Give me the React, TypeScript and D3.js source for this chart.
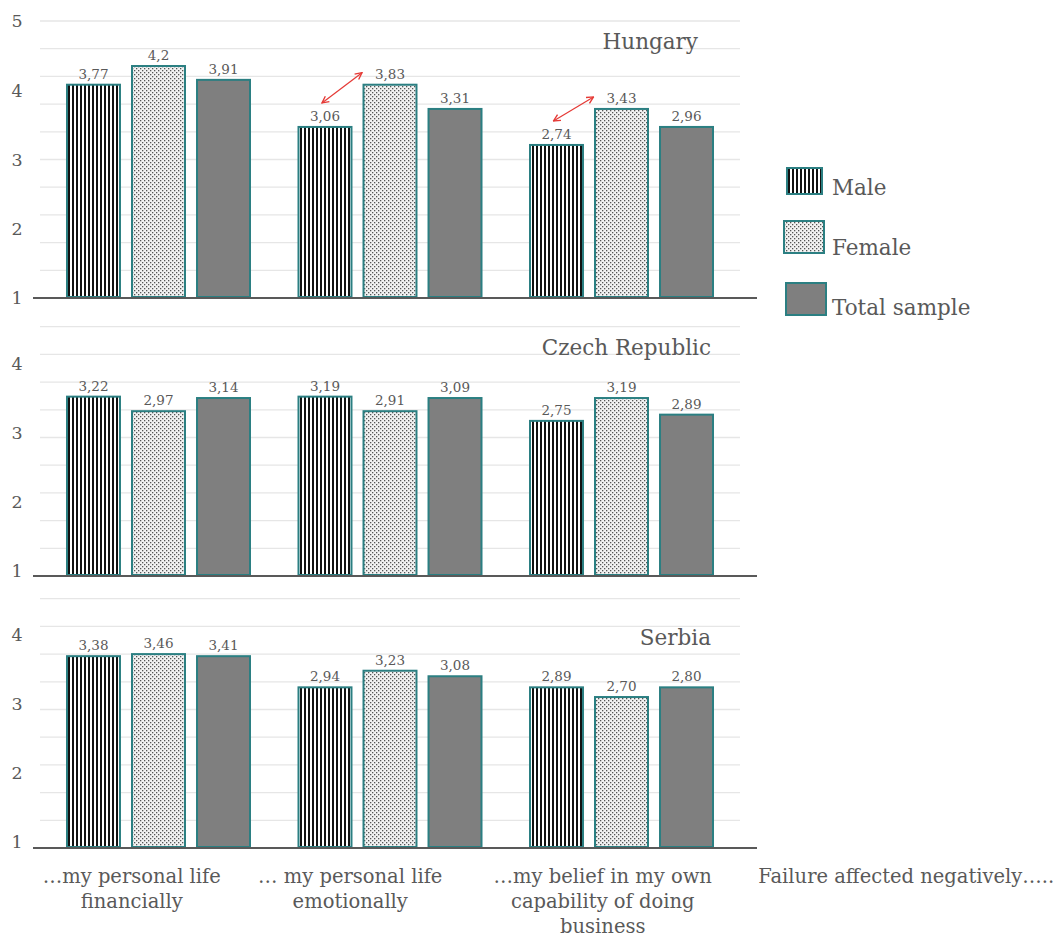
import React from "react";
import * as d3 from "d3";

// ---------- data ----------
const categories = [
  "…my personal life financially",
  "… my personal life emotionally",
  "…my belief in my own capability of doing business",
  "Failure affected negatively…..",
];
const categoryLines = [
  ["…my personal life", "financially"],
  ["… my personal life", "emotionally"],
  ["…my belief in my own", "capability of doing", "business"],
  ["Failure affected negatively….."],
];
const seriesNames = ["Male", "Female", "Total sample"];
const countries = ["Hungary", "Czech Republic", "Serbia"];

// bar heights as drawn against the axis
const hungaryMale = [4.08, 3.47, 3.21];
const hungaryFemale = [4.35, 4.08, 3.73];
const hungaryTotal = [4.15, 3.73, 3.47];
const czechMale = [3.59, 3.59, 3.24];
const czechFemale = [3.38, 3.38, 3.57];
const czechTotal = [3.57, 3.57, 3.33];
const serbiaMale = [3.77, 3.32, 3.32];
const serbiaFemale = [3.8, 3.56, 3.18];
const serbiaTotal = [3.77, 3.48, 3.32];

// printed data labels
const hungaryMaleLabels = ["3,77", "3,06", "2,74"];
const hungaryFemaleLabels = ["4,2", "3,83", "3,43"];
const hungaryTotalLabels = ["3,91", "3,31", "2,96"];
const czechMaleLabels = ["3,22", "3,19", "2,75"];
const czechFemaleLabels = ["2,97", "2,91", "3,19"];
const czechTotalLabels = ["3,14", "3,09", "2,89"];
const serbiaMaleLabels = ["3,38", "2,94", "2,89"];
const serbiaFemaleLabels = ["3,46", "3,23", "2,70"];
const serbiaTotalLabels = ["3,41", "3,08", "2,80"];

const hungaryTicks = [1, 2, 3, 4, 5];
const czechTicks = [1, 2, 3, 4];
const serbiaTicks = [1, 2, 3, 4];
const hungaryArrows = [1, 2]; // categories with red male↔female arrow

const panels = [
  {
    country: countries[0],
    values: [hungaryMale, hungaryFemale, hungaryTotal],
    labels: [hungaryMaleLabels, hungaryFemaleLabels, hungaryTotalLabels],
    ticks: hungaryTicks,
    gridCount: 10,
    arrows: hungaryArrows,
  },
  {
    country: countries[1],
    values: [czechMale, czechFemale, czechTotal],
    labels: [czechMaleLabels, czechFemaleLabels, czechTotalLabels],
    ticks: czechTicks,
    gridCount: 9,
    arrows: [] as number[],
  },
  {
    country: countries[2],
    values: [serbiaMale, serbiaFemale, serbiaTotal],
    labels: [serbiaMaleLabels, serbiaFemaleLabels, serbiaTotalLabels],
    ticks: serbiaTicks,
    gridCount: 9,
    arrows: [] as number[],
  },
];

// ---------- layout ----------
const W = 1057;
const H = 940;
const FONT = "'DejaVu Serif', serif";
const TXT = "#595959";
const STROKE = "#2b7f82";
const panelLayout = [
  { baseline: 298, titleX: 698, titleY: 49, tickDy: 0 },
  { baseline: 576, titleX: 711, titleY: 355, tickDy: -5 },
  { baseline: 848, titleX: 711, titleY: 645, tickDy: -6 },
];
const UNIT = 69.25;
const labelShift = [-26, -39, -18, 54];

const xOuter = d3
  .scaleBand<string>()
  .domain(categories)
  .range([42, 42 + 4 * 231.5])
  .paddingInner(0)
  .paddingOuter(0);
const xInner = d3
  .scaleBand<string>()
  .domain(seriesNames)
  .range([25, 25 + 183])
  .paddingInner(0.185)
  .paddingOuter(0);

const fills = ["url(#stripes)", "url(#dots)", "#7f7f7f"];

function Panel({ p, L }: { p: (typeof panels)[number]; L: (typeof panelLayout)[number] }) {
  const y = d3
    .scaleLinear()
    .domain([1, 5])
    .range([L.baseline, L.baseline - 4 * UNIT]);
  const grid = d3.range(1, p.gridCount + 1).map((k) => 1 + k * 0.4);
  const bw = xInner.bandwidth();
  return (
    <g>
      {grid.map((g, i) => (
        <line
          key={i}
          x1={40}
          x2={740}
          y1={y(g)}
          y2={y(g)}
          stroke="#e6e6e6"
          strokeWidth={1.3}
        />
      ))}
      {p.ticks.map((t) => (
        <text
          key={t}
          x={17}
          y={y(t) + L.tickDy}
          dy="0.36em"
          textAnchor="middle"
          fontFamily={FONT}
          fontSize={17.5}
          fill={TXT}
        >
          {t}
        </text>
      ))}
      {categories.slice(0, 3).map((c, ci) => (
        <g key={c}>
          {seriesNames.map((s, si) => {
            const v = p.values[si][ci];
            const x0 = (xOuter(c) ?? 0) + (xInner(s) ?? 0);
            const top = y(v);
            return (
              <g key={s}>
                <rect
                  x={x0}
                  y={top}
                  width={bw}
                  height={L.baseline - 1 - top}
                  fill={fills[si]}
                  stroke={STROKE}
                  strokeWidth={2}
                />
                <text
                  x={x0 + bw / 2}
                  y={top - 6}
                  textAnchor="middle"
                  fontFamily={FONT}
                  fontSize={13.5}
                  fill={TXT}
                >
                  {p.labels[si][ci]}
                </text>
              </g>
            );
          })}
        </g>
      ))}
      {p.arrows.map((ci) => {
        const c = categories[ci];
        const mx = (xOuter(c) ?? 0) + (xInner("Male") ?? 0) + bw / 2;
        const fx = (xOuter(c) ?? 0) + (xInner("Female") ?? 0) + bw / 2;
        return (
          <line
            key={ci}
            x1={mx - 3}
            y1={y(p.values[0][ci]) - 24}
            x2={fx - 28}
            y2={y(p.values[1][ci]) - 12}
            stroke="#e53935"
            strokeWidth={1.2}
            markerStart="url(#arrowS)"
            markerEnd="url(#arrowE)"
          />
        );
      })}
      <line
        x1={33}
        x2={757}
        y1={L.baseline}
        y2={L.baseline}
        stroke="#595959"
        strokeWidth={2.2}
      />
      <text
        x={L.titleX}
        y={L.titleY}
        textAnchor="end"
        fontFamily={FONT}
        fontSize={21.5}
        fill={TXT}
      >
        {p.country}
      </text>
    </g>
  );
}

const legendLayout = [
  { x: 787, y: 168, w: 35, h: 26, ty: 195 },
  { x: 784, y: 221, w: 40, h: 32, ty: 255 },
  { x: 786, y: 283, w: 40, h: 32, ty: 315 },
];

export default function App() {
  return (
    <svg
      width={W}
      height={H}
      style={{ position: "absolute", left: 0, top: 0, background: "#fff" }}
    >
      <defs>
        <pattern id="stripes" patternUnits="userSpaceOnUse" width={4} height={4}>
          <rect width={4} height={4} fill="#ffffff" />
          <rect width={2} height={4} fill="#111111" />
        </pattern>
        <pattern id="dots" patternUnits="userSpaceOnUse" width={4} height={4}>
          <rect width={4} height={4} fill="#f2f2f2" />
          <rect x={0} y={0} width={1.3} height={1.3} fill="#555" />
          <rect x={2} y={2} width={1.3} height={1.3} fill="#555" />
        </pattern>
        <marker
          id="arrowE"
          viewBox="0 0 10 10"
          refX={9}
          refY={5}
          markerWidth={7}
          markerHeight={7}
          orient="auto"
        >
          <path d="M1,1 L9,5 L1,9" fill="none" stroke="#e53935" strokeWidth={1.6} />
        </marker>
        <marker
          id="arrowS"
          viewBox="0 0 10 10"
          refX={1}
          refY={5}
          markerWidth={7}
          markerHeight={7}
          orient="auto"
        >
          <path d="M9,1 L1,5 L9,9" fill="none" stroke="#e53935" strokeWidth={1.6} />
        </marker>
      </defs>
      <rect width={W} height={H} fill="#fff" />
      {panels.map((p, i) => (
        <Panel key={p.country} p={p} L={panelLayout[i]} />
      ))}
      {categoryLines.map((lines, ci) => {
        const cx =
          (xOuter(categories[ci]) ?? 0) + xOuter.bandwidth() / 2 + labelShift[ci];
        return (
          <text
            key={ci}
            textAnchor="middle"
            fontFamily={FONT}
            fontSize={19.5}
            fill={TXT}
          >
            {lines.map((ln, li) => (
              <tspan key={li} x={cx} y={883 + li * 25}>
                {ln}
              </tspan>
            ))}
          </text>
        );
      })}
      {seriesNames.map((s, i) => {
        const L = legendLayout[i];
        return (
          <g key={s}>
            <rect
              x={L.x}
              y={L.y}
              width={L.w}
              height={L.h}
              fill={fills[i]}
              stroke={STROKE}
              strokeWidth={2}
            />
            <text
              x={832}
              y={L.ty}
              fontFamily={FONT}
              fontSize={21.5}
              fill={TXT}
            >
              {s}
            </text>
          </g>
        );
      })}
    </svg>
  );
}
